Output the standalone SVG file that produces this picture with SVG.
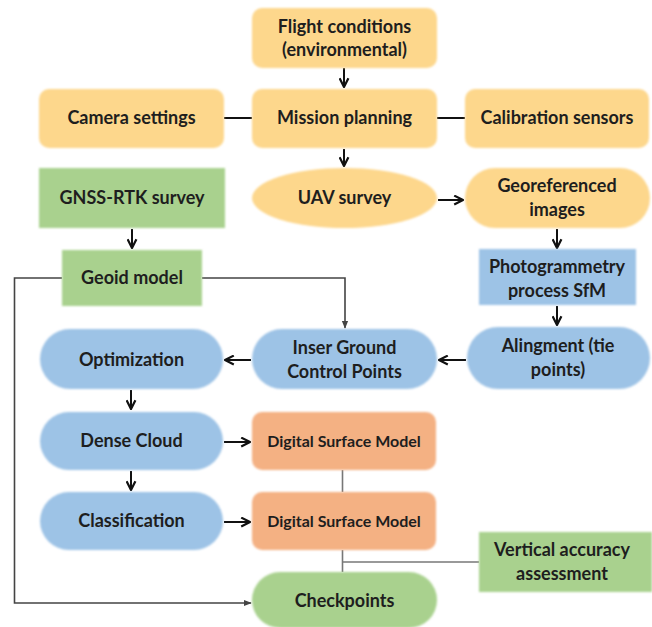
<svg xmlns="http://www.w3.org/2000/svg" width="652" height="627" viewBox="0 0 652 627">
<defs>
<style>
text{font-family:Lato,"Open Sans","Liberation Sans",sans-serif;font-weight:bold;font-size:18px;fill:#1e1e1e;text-anchor:middle}
.sm{font-size:16px}
.yel{fill:#FDD78C}
.grn{fill:#A9D18E}
.blu{fill:#9DC3E6}
.org{fill:#F4B183}
.arr{stroke:#111;stroke-width:2;fill:none;marker-end:url(#ah)}
.ln{stroke:#111;stroke-width:2;fill:none}
.gla{stroke:#444;stroke-width:1.6;fill:none;marker-end:url(#ahs)}
.gr{stroke:#777;stroke-width:1.6;fill:none}
</style>
<marker id="ah" viewBox="0 0 10 10" refX="9" refY="5" markerWidth="5.5" markerHeight="5.5" orient="auto" markerUnits="strokeWidth">
<path d="M1,1 L9,5 L1,9" fill="none" stroke="#111" stroke-width="2"/>
</marker>
<marker id="ahs" viewBox="0 0 10 10" refX="9" refY="5" markerWidth="5" markerHeight="5" orient="auto" markerUnits="strokeWidth">
<path d="M0,1 L10,5 L0,9 z" fill="#444"/>
</marker>
<filter id="soft" x="-5%" y="-5%" width="110%" height="110%">
<feGaussianBlur stdDeviation="0.8"/>
</filter>
</defs>
<rect width="652" height="627" fill="#fff"/>

<g id="connectors">
<line class="arr" x1="344" y1="68" x2="344" y2="87"/>
<line class="ln" x1="224" y1="118" x2="252" y2="118"/>
<line class="ln" x1="437" y1="118" x2="465" y2="118"/>
<line class="arr" x1="344" y1="149" x2="344" y2="166"/>
<line class="arr" x1="438" y1="200" x2="463" y2="200"/>
<line class="arr" x1="132" y1="229" x2="132" y2="248"/>
<line class="arr" x1="557" y1="229" x2="557" y2="248"/>
<line class="arr" x1="557" y1="306" x2="557" y2="325"/>
<polyline class="gla" points="202,278 345,278 345,328"/>
<polyline class="gla" points="62,278 14.5,278 14.5,603 251,603"/>
<line class="arr" x1="466" y1="360" x2="439" y2="360"/>
<line class="arr" x1="251" y1="360" x2="225" y2="360"/>
<line class="arr" x1="131" y1="390" x2="131" y2="409"/>
<line class="arr" x1="224" y1="442" x2="250" y2="442"/>
<line class="arr" x1="131" y1="471" x2="131" y2="490"/>
<line class="arr" x1="224" y1="522" x2="250" y2="522"/>
<line class="gr" x1="342.5" y1="470" x2="342.5" y2="492"/>
<line class="gr" x1="342.5" y1="550" x2="342.5" y2="572"/>
<line class="gr" x1="342.5" y1="562" x2="479" y2="562"/>
</g>

<g id="flight"><rect class="yel" x="252" y="8" width="185" height="60" rx="10" filter="url(#soft)"/><text x="344.5" y="33">Flight conditions</text><text x="344.5" y="56">(environmental)</text></g>
<g id="camera"><rect class="yel" x="39" y="89" width="185" height="59" rx="10" filter="url(#soft)"/><text x="131.5" y="124">Camera settings</text></g>
<g id="mission"><rect class="yel" x="252" y="89" width="185" height="59" rx="10" filter="url(#soft)"/><text x="344.5" y="124">Mission planning</text></g>
<g id="calibration"><rect class="yel" x="465" y="89" width="184" height="59" rx="10" filter="url(#soft)"/><text x="557" y="124">Calibration sensors</text></g>

<g id="gnss"><rect class="grn" x="39" y="168" width="186" height="60" filter="url(#soft)"/><text x="132" y="204">GNSS-RTK survey</text></g>
<g id="uav"><ellipse class="yel" cx="344.5" cy="198" rx="92.5" ry="30" filter="url(#soft)"/><text x="344.5" y="204">UAV survey</text></g>
<g id="georef"><rect class="yel" x="465" y="168" width="185" height="60" rx="30" filter="url(#soft)"/><text x="557" y="192">Georeferenced</text><text x="557" y="216">images</text></g>

<g id="geoid"><rect class="grn" x="62" y="250" width="140" height="56" filter="url(#soft)"/><text x="132" y="284">Geoid model</text></g>
<g id="photogrammetry"><rect class="blu" x="479" y="249" width="157" height="56" filter="url(#soft)"/><text x="557" y="273">Photogrammetry</text><text x="557" y="297">process SfM</text></g>

<g id="optimization"><rect class="blu" x="40" y="329" width="183" height="60" rx="30" filter="url(#soft)"/><text x="131.5" y="366">Optimization</text></g>
<g id="gcp"><rect class="blu" x="252" y="329" width="185" height="60" rx="30" filter="url(#soft)"/><text x="344.5" y="354">Inser Ground</text><text x="344.5" y="378">Control Points</text></g>
<g id="alignment"><rect class="blu" x="467" y="327" width="183" height="62" rx="31" filter="url(#soft)"/><text x="558" y="352">Alingment (tie</text><text x="558" y="376">points)</text></g>

<g id="dense"><rect class="blu" x="40" y="412" width="183" height="58" rx="29" filter="url(#soft)"/><text x="131.5" y="447">Dense Cloud</text></g>
<g id="dsm1"><rect class="org" x="252" y="412" width="184" height="58" rx="10" filter="url(#soft)"/><text class="sm" x="344" y="447">Digital Surface Model</text></g>

<g id="classification"><rect class="blu" x="40" y="492" width="183" height="58" rx="29" filter="url(#soft)"/><text x="131.5" y="527">Classification</text></g>
<g id="dsm2"><rect class="org" x="252" y="492" width="184" height="58" rx="10" filter="url(#soft)"/><text class="sm" x="344" y="527">Digital Surface Model</text></g>

<g id="vertical"><rect class="grn" x="479" y="532" width="173" height="60" filter="url(#soft)"/><text x="562" y="556">Vertical accuracy</text><text x="562" y="580">assessment</text></g>
<g id="checkpoints"><rect class="grn" x="252" y="572" width="185" height="56" rx="28" filter="url(#soft)"/><text x="344.5" y="607">Checkpoints</text></g>
</svg>
